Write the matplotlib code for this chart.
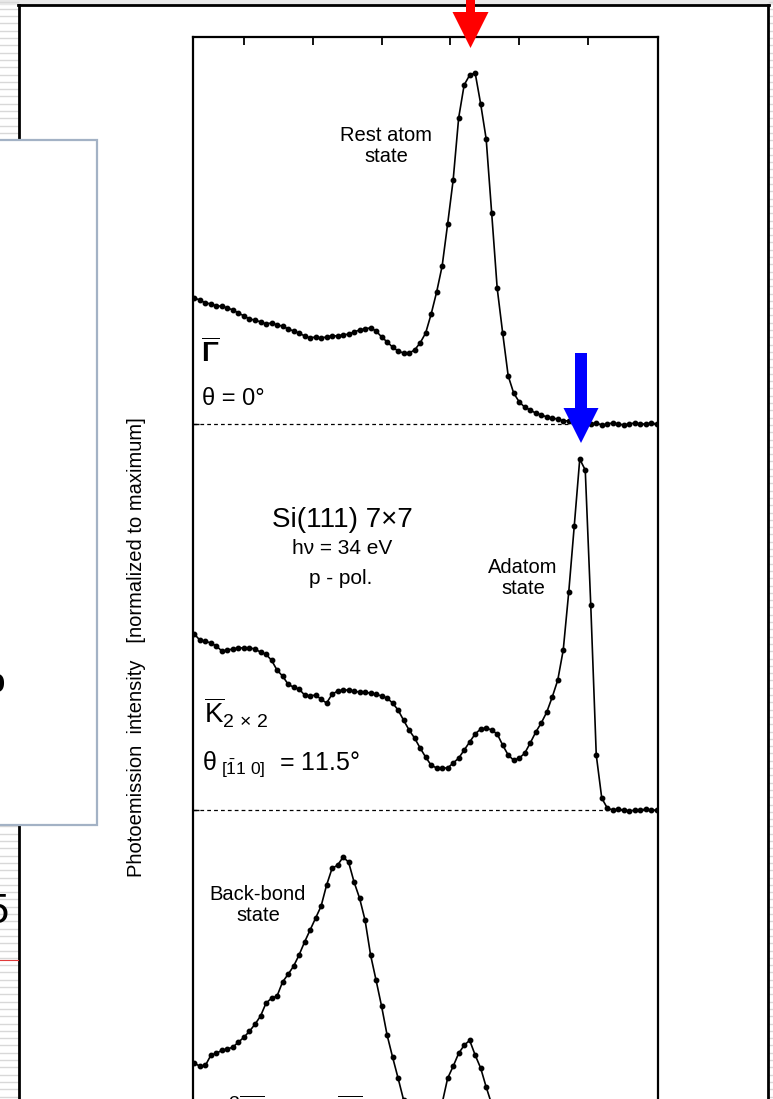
import numpy as np
import matplotlib.pyplot as plt
from matplotlib.patches import Rectangle, FancyArrow

plt.rcParams['font.family'] = ['Liberation Sans', 'DejaVu Sans']
plt.rcParams['mathtext.fontset'] = 'custom'
plt.rcParams['mathtext.rm'] = 'Liberation Sans'
plt.rcParams['mathtext.it'] = 'Liberation Sans:italic'
plt.rcParams['mathtext.bf'] = 'Liberation Sans:bold'

# energy relative to E_F (eV)
energy = [
    -2.86, -2.82, -2.78, -2.74, -2.70, -2.66, -2.62, -2.58, -2.54, -2.50,
    -2.46, -2.42, -2.38, -2.34, -2.30, -2.26, -2.22, -2.18, -2.14, -2.10,
    -2.06, -2.02, -1.98, -1.94, -1.90, -1.86, -1.82, -1.78, -1.74, -1.70,
    -1.66, -1.62, -1.58, -1.54, -1.50, -1.46, -1.42, -1.38, -1.34, -1.30,
    -1.26, -1.22, -1.18, -1.14, -1.10, -1.06, -1.02, -0.98, -0.94, -0.90,
    -0.86, -0.82, -0.78, -0.74, -0.70, -0.66, -0.62, -0.58, -0.54, -0.50,
    -0.46, -0.42, -0.38, -0.34, -0.30, -0.26, -0.22, -0.18, -0.14, -0.10,
    -0.06, -0.02, 0.02, 0.06, 0.10, 0.14, 0.18, 0.22, 0.26, 0.30,
    0.34, 0.38, 0.42, 0.46, 0.50,
]

# Gamma-bar, theta = 0 deg (normalized to maximum)
gamma = [
    0.359, 0.353, 0.345, 0.342, 0.336, 0.336, 0.330, 0.325, 0.316, 0.308,
    0.299, 0.296, 0.291, 0.285, 0.288, 0.282, 0.279, 0.271, 0.265, 0.259,
    0.251, 0.245, 0.248, 0.245, 0.248, 0.251, 0.251, 0.254, 0.256, 0.262,
    0.268, 0.271, 0.274, 0.265, 0.248, 0.234, 0.219, 0.208, 0.202, 0.202,
    0.211, 0.231, 0.259, 0.313, 0.376, 0.450, 0.570, 0.695, 0.872, 0.966,
    0.994, 1.000, 0.912, 0.812, 0.601, 0.387, 0.259, 0.137, 0.088, 0.063,
    0.048, 0.040, 0.031, 0.026, 0.020, 0.017, 0.014, 0.009, 0.009, 0.006,
    0.003, 0.003, 0.000, 0.003, -0.003, 0.000, 0.003, 0.000, -0.003, 0.000,
    0.003, 0.000, 0.000, 0.003, 0.000,
]

# K-bar 2x2, theta = 11.5 deg
kbar = [
    0.501, 0.484, 0.481, 0.476, 0.467, 0.453, 0.456, 0.459, 0.462, 0.462,
    0.462, 0.459, 0.450, 0.444, 0.427, 0.399, 0.382, 0.359, 0.350, 0.345,
    0.328, 0.325, 0.328, 0.316, 0.305, 0.330, 0.339, 0.342, 0.342, 0.339,
    0.336, 0.336, 0.333, 0.330, 0.325, 0.319, 0.305, 0.285, 0.256, 0.228,
    0.205, 0.177, 0.151, 0.128, 0.120, 0.120, 0.120, 0.134, 0.148, 0.171,
    0.194, 0.217, 0.231, 0.234, 0.228, 0.217, 0.185, 0.157, 0.142, 0.148,
    0.162, 0.191, 0.222, 0.248, 0.279, 0.322, 0.370, 0.456, 0.621, 0.809,
    1.000, 0.969, 0.584, 0.157, 0.034, 0.006, 0.000, 0.003, 0.000, -0.003,
    0.000, 0.000, 0.003, 0.000, 0.000,
]

# third spectrum (back-bond state), lower part cut off in the picture
mbar = [
    0.379, 0.370, 0.373, 0.402, 0.407, 0.416, 0.419, 0.425, 0.439, 0.453,
    0.470, 0.490, 0.513, 0.550, 0.564, 0.570, 0.610, 0.632, 0.655, 0.687,
    0.724, 0.758, 0.792, 0.826, 0.886, 0.934, 0.943, 0.966, 0.952, 0.895,
    0.849, 0.786, 0.687, 0.615, 0.541, 0.459, 0.396, 0.336, 0.274, 0.231,
    0.202, 0.188, 0.182, 0.194, 0.222, 0.265, 0.336, 0.370, 0.407, 0.430,
    0.444, 0.402, 0.365, 0.311, 0.262, 0.222, 0.202, 0.194, 0.188, 0.194,
    0.202, 0.211, 0.217, 0.211, 0.202, 0.188, 0.160, 0.131, 0.103, 0.074,
    0.046, 0.023, 0.009, 0.000, 0.000, 0.000, 0.000, 0.000, 0.000, 0.000,
    0.000, 0.000, 0.000, 0.000, 0.000,
]

spectra = [gamma, kbar, mbar]
offsets = [2.2, 1.1, 0.0]
tick_energies = [-2.5, -2.0, -1.5, -1.0, -0.5, 0.0]

W, H = 773, 1099
fig = plt.figure(figsize=(W / 100, H / 100), dpi=100)
fig.patch.set_facecolor('white')

# --- slide background (pixel coordinates) ---
bg = fig.add_axes([0, 0, 1, 1], zorder=0)
bg.set_xlim(0, W)
bg.set_ylim(H, 0)
bg.axis('off')
for y in np.arange(1.5, H, 7.3):
    bg.plot([0, 18], [y, y], color='#d8d8d8', lw=1.0)
    bg.plot([769, W], [y, y], color='#d8d8d8', lw=1.0)
bg.add_patch(Rectangle((0, 0), W, 3.5, color='#e9e9e9'))
bg.plot([19, 19], [5, H], color='black', lw=2.0)
bg.plot([18, 768.5], [5, 5], color='black', lw=2.0)
bg.plot([768, 768], [5, H], color='black', lw=2.0)
bg.plot([0, 18], [960, 960], color='#e03a3a', lw=0.8)
bg.add_patch(Rectangle((-5, 140), 102, 685, facecolor='white',
                       edgecolor='#a3b2c5', lw=1.6, zorder=3))
bg.text(5, 692, 'p', fontsize=24, fontweight='bold', ha='right',
        va='baseline', zorder=4)
bg.text(9, 923, '5', fontsize=30, ha='right', va='baseline', zorder=4)

# --- the spectra ---
ax = fig.add_axes([193 / W, 0, 465 / W, 1062 / H], zorder=1)
ax.set_facecolor('white')
for vals, off in zip(spectra, offsets):
    ax.axhline(off, color='black', lw=0.9, ls=(0, (3, 2.5)), zorder=1)
    ax.plot(energy, np.array(vals) + off, color='black', lw=1.2,
            marker='o', ms=3.2, zorder=2)

ax.xaxis.tick_top()
ax.set_xticks(tick_energies)
ax.set_yticks(offsets[:2])
ax.set_xlim(-2.8706, 0.5087)
ax.set_ylim(0.2769, 3.3026)
ax.spines['bottom'].set_visible(False)
for s in ['top', 'left', 'right']:
    ax.spines[s].set_linewidth(1.6)
ax.tick_params(axis='x', direction='in', length=6, width=1.3,
               labeltop=False, top=True, bottom=False)
ax.tick_params(axis='y', direction='in', length=4, width=1.0,
               labelleft=False, right=False)

# --- labels and arrows on top (pixel coordinates) ---
ov = fig.add_axes([0, 0, 1, 1], zorder=5)
ov.set_xlim(0, W)
ov.set_ylim(H, 0)
ov.axis('off')

ov.text(137, 647, 'Photoemission  intensity   [normalized to maximum]',
        rotation=90, ha='center', va='center', fontsize=14.5)

ov.text(386, 146, 'Rest atom\nstate', ha='center', va='center',
        fontsize=14.5, linespacing=1.15)
ov.text(523, 578, 'Adatom\nstate', ha='center', va='center',
        fontsize=14.5, linespacing=1.15)
ov.text(258, 905, 'Back-bond\nstate', ha='center', va='center',
        fontsize=14.5, linespacing=1.15)
ov.text(342, 520, 'Si(111) 7×7', ha='center', va='center', fontsize=20)
ov.text(342, 549, 'hν = 34 eV', ha='center', va='center', fontsize=15)
ov.text(341, 578, 'p - pol.', ha='center', va='center', fontsize=15)

ov.text(201, 362, r'$\overline{\mathbf{\Gamma}}$', ha='left',
        va='baseline', fontsize=20)
ov.text(202, 405, 'θ = 0°', ha='left', va='baseline', fontsize=17)
ov.text(204, 723, r'$\overline{\mathrm{K}}_{2\,\times\,2}$', ha='left',
        va='baseline', fontsize=20)
ov.text(202, 770, r'$\mathrm{θ}_{\ [\bar{1}1\ 0]}$  = 11.5°', ha='left',
        va='baseline', fontsize=18)
ov.text(228, 1120, r'$^{3}\overline{\mathrm{M}}$', ha='left',
        va='baseline', fontsize=20)
ov.text(337, 1120, r'$\overline{\mathrm{M}}$', ha='left',
        va='baseline', fontsize=20)

ov.add_patch(FancyArrow(470.5, -5, 0, 53, width=9, head_width=36,
                        head_length=36, length_includes_head=True,
                        color='#ff0000', lw=0))
ov.add_patch(FancyArrow(581, 353, 0, 90, width=12, head_width=35,
                        head_length=35, length_includes_head=True,
                        color='#0000ff', lw=0))

fig.savefig('out.png', dpi=100)
